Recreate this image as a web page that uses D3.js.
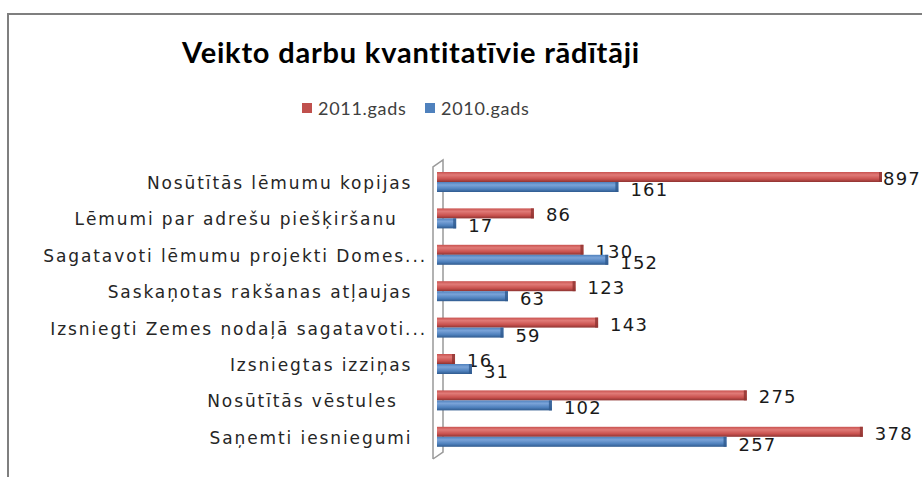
<!DOCTYPE html>
<html>
  <head>
    <meta charset="utf-8" />
    <style>
      body { margin: 0; background: #fff; }
      text { font-family: Lato, "DejaVu Sans", sans-serif; }
      text.num, text.cat { font-family: "DejaVu Sans", sans-serif; }
    </style>
  </head>
  <body>

<svg id="graph"></svg>

<script src="https://d3js.org/d3.v7.min.js"></script>
<script>
  const WIDTH = 922;
  const HEIGHT = 477;

  // categories from top to bottom (trailing spaces as in the source labels)
  const CATEGORIES = [
    'Nosūtītās lēmumu kopijas  ',
    'Lēmumi par adrešu piešķiršanu    ',
    'Sagatavoti lēmumu projekti Domes...',
    'Saskaņotas rakšanas atļaujas  ',
    'Izsniegti Zemes nodaļā sagatavoti...',
    'Izsniegtas izziņas  ',
    'Nosūtītās vēstules    ',
    'Saņemti iesniegumi  '
  ];
  const SERIES = ['2011.gads', '2010.gads'];
  const VALUES_2011 = [897, 86, 130, 123, 143, 16, 275, 378];
  const VALUES_2010 = [161, 17, 152, 63, 59, 31, 102, 257];
  const COLORS = ['#C0504D', '#4F81BD'];
  const AXIS_MAX = 395; // axis is cut off, the 897 bar runs past the plot

  const svg = d3.select('#graph')
    .attr('width', WIDTH)
    .attr('height', HEIGHT);

  // frame (only left and top edges are inside the picture)
  svg.append('path')
    .attr('d', `M8,${HEIGHT} V14 H${WIDTH}`)
    .attr('fill', 'none')
    .attr('stroke', '#7f7f7f')
    .attr('stroke-width', 2);

  // title
  svg.append('text')
    .attr('x', 411)
    .attr('y', 63)
    .attr('text-anchor', 'middle')
    .attr('font-size', 29)
    .attr('font-weight', 'bold')
    .attr('letter-spacing', 0.8)
    .attr('fill', '#000')
    .text('Veikto darbu kvantitatīvie rādītāji');

  // legend
  const legendX = [302, 425];
  const legend = svg.selectAll('g.legend')
    .data(SERIES)
    .enter()
    .append('g')
    .attr('class', 'legend')
    .attr('transform', (d, i) => `translate(${legendX[i]},103)`);
  legend.append('rect')
    .attr('width', 10)
    .attr('height', 10)
    .attr('fill', (d, i) => COLORS[i]);
  legend.append('text')
    .attr('x', 16)
    .attr('y', 12)
    .attr('font-size', 18)
    .attr('letter-spacing', 0.7)
    .attr('fill', '#404040')
    .text(d => d);

  // scales
  const x = d3.scaleLinear()
    .domain([0, AXIS_MAX])
    .range([437, 882])
    .clamp(true);

  const y = d3.scaleBand()
    .domain(CATEGORIES)
    .range([163.8, 455]);

  const ySub = d3.scaleBand()
    .domain(SERIES)
    .range([-10, 10]);

  // gradients for a cylinder look
  const defs = svg.append('defs');
  const shades = [
    ['#e07a77', '#c9524f', '#8e3331'],
    ['#7aa3d8', '#4f81bd', '#2f5a8e']
  ];
  shades.forEach((s, i) => {
    const g = defs.append('linearGradient')
      .attr('id', 'grad' + i)
      .attr('x1', 0).attr('y1', 0).attr('x2', 0).attr('y2', 1);
    g.append('stop').attr('offset', '0%').attr('stop-color', s[1]);
    g.append('stop').attr('offset', '30%').attr('stop-color', s[0]);
    g.append('stop').attr('offset', '70%').attr('stop-color', s[1]);
    g.append('stop').attr('offset', '100%').attr('stop-color', s[2]);
  });

  // 3d wall of the category axis
  svg.append('path')
    .attr('d', `M433,459 V167 L443,160 V452 L433,459`)
    .attr('fill', 'none')
    .attr('stroke', '#999')
    .attr('stroke-width', 1.5);

  const rows = CATEGORIES.map((c, i) => ({
    cat: c,
    vals: [VALUES_2011[i], VALUES_2010[i]]
  }));

  const groups = svg.selectAll('g.row')
    .data(rows)
    .enter()
    .append('g')
    .attr('class', 'row')
    .attr('transform', d => `translate(0,${y(d.cat) + y.bandwidth() / 2})`);

  const bars = groups.selectAll('g.bar')
    .data(d => d.vals.map((v, i) => ({ v: v, s: SERIES[i], i: i })))
    .enter()
    .append('g')
    .attr('class', 'bar');

  bars.append('rect')
    .attr('x', x(0))
    .attr('y', d => ySub(d.s))
    .attr('width', d => x(d.v) - x(0))
    .attr('height', ySub.bandwidth())
    .attr('fill', d => `url(#grad${d.i})`);

  // end cap
  bars.append('rect')
    .attr('x', d => x(d.v) - 3)
    .attr('y', d => ySub(d.s))
    .attr('width', 3)
    .attr('height', ySub.bandwidth())
    .attr('fill', d => shades[d.i][2])
    .attr('opacity', 0.8);

  // value labels
  bars.append('text')
    .attr('class', 'num')
    .attr('x', d => d.v > AXIS_MAX ? x(d.v) + 1 : x(d.v) + 12)
    .attr('y', d => ySub(d.s) + ySub.bandwidth() / 2 + 8 + d.i)
    .attr('font-size', 18)
    .attr('letter-spacing', 1.2)
    .attr('fill', '#1a1a1a')
    .text(d => d.v);

  // category labels
  groups.append('text')
    .attr('class', 'cat')
    .attr('x', 427)
    .attr('y', 7)
    .attr('text-anchor', 'end')
    .attr('font-size', 17)
    .attr('letter-spacing', 1.9)
    .attr('fill', '#262626')
    .style('white-space', 'pre')
    .text(d => d.cat);

</script>
  </body>
</html>
